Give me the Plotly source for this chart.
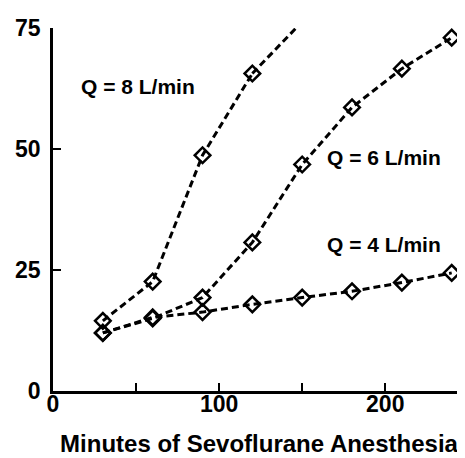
import plotly.graph_objects as go

minutes = [30, 60, 90, 120, 150, 180, 210, 240]
q8_minutes = [30, 60, 90, 120]
q8_values = [14.5, 22.6, 48.7, 65.6]
q8_tail_minutes = [120, 148]
q8_tail_values = [65.6, 75.6]
q6_values = [12.0, 15.0, 19.3, 30.7, 46.8, 58.6, 66.6, 73.0]
q4_values = [12.0, 15.2, 16.3, 17.9, 19.3, 20.6, 22.4, 24.4]

labels = ["Q = 8 L/min", "Q = 6 L/min", "Q = 4 L/min"]
label_x = [51, 199, 199.5]
label_y = [63, 48.3, 30.2]

FONT = "Liberation Sans, Arial, Helvetica, sans-serif"
line_style = dict(color="black", width=3, dash="7px,4px")
marker_style = dict(symbol="diamond-open", size=12, color="black", line=dict(color="black", width=2.5))

fig = go.Figure()
fig.add_trace(go.Scatter(x=q8_tail_minutes, y=q8_tail_values, mode="lines", line=line_style, hoverinfo="skip"))
for xs, ys in [(minutes, q4_values), (minutes, q6_values), (q8_minutes, q8_values)]:
    fig.add_trace(go.Scatter(x=xs, y=ys, mode="lines+markers", line=line_style, marker=marker_style, cliponaxis=False))

for t, x, y in zip(labels, label_x, label_y):
    fig.add_annotation(x=x, y=y, text="<b>%s</b>" % t, showarrow=False,
                       font=dict(family=FONT, size=21, color="black"))

fig.update_layout(
    width=457, height=450,
    margin=dict(l=45, r=0, t=20, b=67),
    paper_bgcolor="white", plot_bgcolor="white",
    showlegend=False,
    font=dict(family=FONT, color="black"),
    xaxis=dict(range=[0, 248], tickvals=[0, 100, 200], ticktext=["<b>0</b>", "<b>100</b>", "<b>200</b>"],
               ticks="inside", ticklen=8, tickwidth=2, tickcolor="black",
               minor=dict(tickvals=[50, 150], ticks="inside", ticklen=8, tickwidth=2, tickcolor="black"),
               showline=True, linecolor="black", linewidth=2.5, showgrid=False, zeroline=False,
               tickfont=dict(size=23, family=FONT), ticklabelstandoff=-9,
               title=dict(text="<b>Minutes of Sevoflurane Anesthesia</b>", font=dict(size=24, family=FONT), standoff=19)),
    yaxis=dict(range=[0, 75], tickvals=[0, 25, 50, 75], ticktext=["<b>0</b>", "<b>25</b>", "<b>50</b>", "<b>75</b>"],
               ticks="inside", ticklen=8, tickwidth=2, tickcolor="black",
               showline=True, linecolor="black", linewidth=2.5, showgrid=False, zeroline=False,
               tickfont=dict(size=23, family=FONT), ticklabelstandoff=5),
)

fig.write_html("out.html")
